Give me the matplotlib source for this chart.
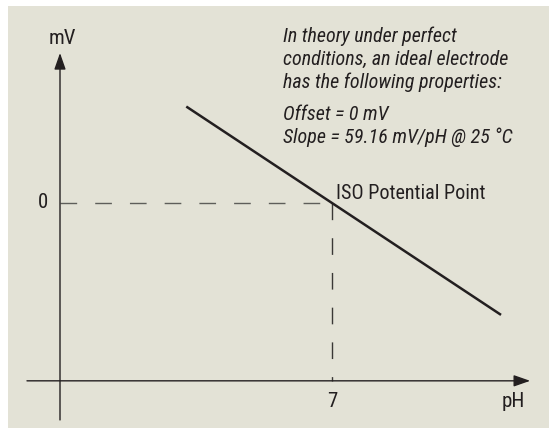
import matplotlib
matplotlib.use('Agg')
import matplotlib.pyplot as plt
from matplotlib.patches import Rectangle
from matplotlib import font_manager

# ideal electrode response
slope_mv_per_ph = 59.16
offset_mv = 0.0
iso_ph = 7.0
line_ph = [3.25, 11.35]
line_mv = [offset_mv - slope_mv_per_ph * (p - iso_ph) for p in line_ph]

# axis extents (pH, mV)
x_axis_ph = [-0.85, 12.1]
x_axis_mv = -409
y_axis_mv = [-499, 345]

note_lines = ['In theory under perfect',
              'conditions, an ideal electrode',
              'has the following properties:']
prop_lines = ['Offset = 0 mV',
              'Slope = 59.16 mV/pH @ 25 \u00b0C']

ink = '#231f20'
panel = '#e3e2d6'

# narrow sans if there is one, else Liberation Sans
names = {f.name for f in font_manager.fontManager.ttflist}
fam = 'DejaVu Sans'
for cand in ['Liberation Sans Narrow', 'Roboto Condensed', 'DejaVu Sans Condensed',
             'Liberation Sans']:
    if cand in names:
        fam = cand
        break
plt.rcParams['font.family'] = [fam, 'DejaVu Sans']

fig = plt.figure(figsize=(5.49, 4.29), dpi=100)
fig.patch.set_facecolor('white')
fig.patches.append(Rectangle((8 / 549, 1 / 429), 541 / 549, 422 / 429,
                             transform=fig.transFigure, facecolor=panel,
                             edgecolor='none', zorder=-5))

ax = fig.add_axes([0, 0, 1, 1])
ax.set_facecolor('none')
px_ph = 38.857
mv_px = 2.30
ax.set_xlim(-60 / px_ph, (549 - 60) / px_ph)
ax.set_ylim(-(429 - 203) * mv_px, 203 * mv_px)
ax.axis('off')

arrow = dict(arrowstyle='-|>,head_length=1.0,head_width=0.35',
             mutation_scale=10, lw=1.0, color=ink, shrinkA=0, shrinkB=0)
ax.annotate('', xy=(x_axis_ph[1], x_axis_mv), xytext=(x_axis_ph[0], x_axis_mv),
            arrowprops=arrow)
ax.annotate('', xy=(0, y_axis_mv[1]), xytext=(0, y_axis_mv[0]),
            arrowprops=arrow)

# dashed guides to the iso potential point
ax.plot([0, iso_ph], [offset_mv, offset_mv], color='#5e5e5a', lw=1.0,
        dashes=(12, 13))
ax.plot([iso_ph, iso_ph], [offset_mv, x_axis_mv], color='#3a3836', lw=1.0,
        dashes=(12, 13))

ax.plot(line_ph, line_mv, color=ink, lw=1.8, solid_capstyle='butt')

ax.text(0.05, 379, 'mV', ha='center', va='center', fontsize=15, color=ink)
ax.text(-0.44, offset_mv, '0', ha='center', va='center', fontsize=15, color=ink)
ax.text(iso_ph, -456, '7', ha='center', va='center', fontsize=15, color=ink)
ax.text(11.66, -456, 'pH', ha='center', va='center', fontsize=15, color=ink)
ax.text(7.1, 21, 'ISO Potential Point', ha='left', va='center',
        fontsize=14.5, color=ink)

ax.text(5.74, 330, '\n'.join(note_lines), ha='left', va='center',
        fontsize=14.4, style='italic', color=ink, linespacing=1.25)
ax.text(5.74, 177, '\n'.join(prop_lines), ha='left', va='center',
        fontsize=14.4, style='italic', color=ink, linespacing=1.25)

fig.savefig('out.png', dpi=100, facecolor='white')
